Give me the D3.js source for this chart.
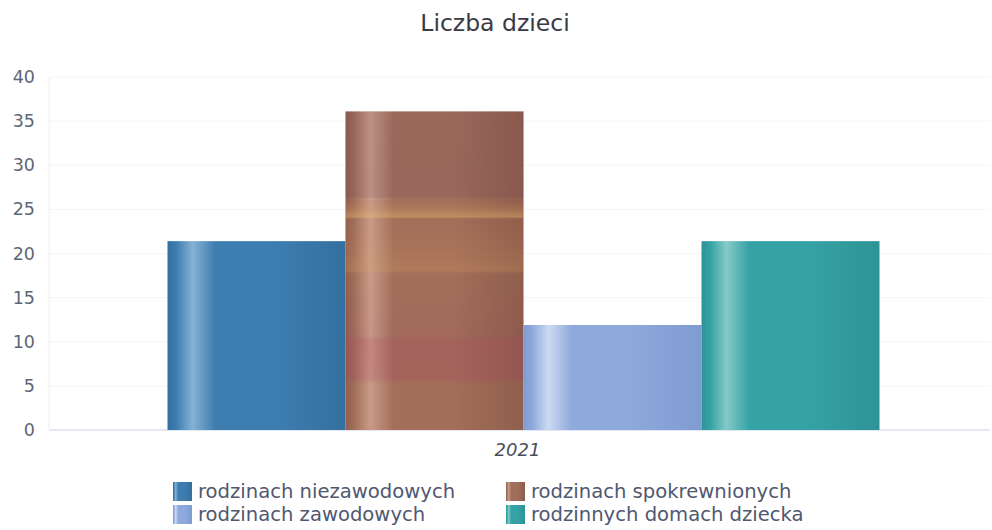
<!DOCTYPE html>
<html>
<head>
<meta charset="utf-8">
<script src="https://cdn.jsdelivr.net/npm/d3@7"></script>
<style>
body { margin: 0; background: #fff; }
svg text { font-family: "DejaVu Sans", Verdana, sans-serif; }
</style>
</head>
<body>
<script>
// data
var categories = ["2021"];
var seriesNames = ["rodzinach niezawodowych", "rodzinach spokrewnionych", "rodzinach zawodowych", "rodzinnych domach dziecka"];
var seriesValues = [21.4, 36.1, 11.9, 21.4];
var yTicks = [0, 5, 10, 15, 20, 25, 30, 35, 40];

var colors = ["#3d7db0", "#a06e5a", "#8ea9dc", "#35a2a5"];
var lights = ["#86b2d4", "#c99e8c", "#cddbf2", "#84cac8"];
var darks  = ["#34709f", "#8c5c4c", "#7f9bd0", "#2d9396"];

var W = 992, H = 530;
var margin = {top: 77, right: 2, bottom: 100, left: 49};

var svg = d3.select("body").append("svg")
	.attr("width", W)
	.attr("height", H);

var defs = svg.append("defs");
colors.forEach(function (c, i) {
	var g = defs.append("linearGradient")
		.attr("id", "grad" + i)
		.attr("x1", "0%").attr("x2", "100%")
		.attr("y1", "0%").attr("y2", "0%");
	g.append("stop").attr("offset", "0%").attr("stop-color", darks[i]);
	g.append("stop").attr("offset", "5%").attr("stop-color", c);
	g.append("stop").attr("offset", "14%").attr("stop-color", lights[i]);
	g.append("stop").attr("offset", "27%").attr("stop-color", c);
	g.append("stop").attr("offset", "60%").attr("stop-color", c);
	g.append("stop").attr("offset", "100%").attr("stop-color", darks[i]);
});

// scan-ish bands on the brown bar
var bands = defs.append("linearGradient")
	.attr("id", "bands")
	.attr("x1", "0%").attr("x2", "0%")
	.attr("y1", "0%").attr("y2", "100%");
[
	[0, "#7a4a60", 0.15], [0.27, "#7a4a60", 0.18], [0.272, "#fff2c0", 0.0],
	[0.28, "#c07850", 0.1], [0.33, "#f0c070", 0.4], [0.34, "#c07850", 0.08],
	[0.5, "#e0a060", 0.25], [0.51, "#c07850", 0.08],
	[0.7, "#b04060", 0.08], [0.72, "#b04060", 0.25], [0.84, "#b04060", 0.22],
	[0.86, "#c07850", 0.08], [1, "#c07850", 0.08]
].forEach(function (s) {
	bands.append("stop").attr("offset", s[0]).attr("stop-color", s[1]).attr("stop-opacity", s[2]);
});

var x = d3.scaleBand()
	.domain(categories)
	.range([margin.left, W - margin.right])
	.paddingInner(0)
	.paddingOuter(0.125);

var y = d3.scaleLinear()
	.domain([0, 40])
	.range([H - margin.bottom, margin.top]);

// title
svg.append("text")
	.attr("x", W / 2 - 1)
	.attr("y", 31)
	.attr("text-anchor", "middle")
	.attr("font-size", 23.5)
	.attr("fill", "#3a3a44")
	.text("Liczba dzieci");

// grid
svg.append("g")
	.selectAll("line")
	.data(yTicks)
	.enter().append("line")
	.attr("x1", margin.left)
	.attr("x2", W - margin.right)
	.attr("y1", function (d) { return y(d); })
	.attr("y2", function (d) { return y(d); })
	.attr("stroke", function (d) { return d === 0 ? "#c9d3e3" : "#f4f5f8"; })
	.attr("stroke-width", 1);

svg.append("line")
	.attr("x1", margin.left).attr("x2", margin.left)
	.attr("y1", y(40)).attr("y2", y(0))
	.attr("stroke", "#eef0f4");

// y axis
var yAxis = svg.append("g")
	.attr("transform", "translate(" + (margin.left - 14) + ",0)")
	.call(d3.axisLeft(y).tickValues(yTicks).tickSize(0).tickPadding(0));
yAxis.select(".domain").remove();
yAxis.selectAll("text")
	.attr("font-size", 17.5)
	.attr("fill", "#5e6676")
	.attr("font-family", "DejaVu Sans, sans-serif");

// bars
var barW = 178;
var groupW = barW * seriesNames.length;
var bars = svg.append("g");
categories.forEach(function (cat) {
	var cx = x(cat) + x.bandwidth() / 2 + 4;
	var sx = d3.scaleBand().domain(seriesNames).range([cx - groupW / 2, cx + groupW / 2]);
	bars.selectAll("rect.s")
		.data(seriesValues)
		.enter().append("rect")
		.attr("x", function (d, i) { return sx(seriesNames[i]); })
		.attr("width", sx.bandwidth())
		.attr("y", function (d) { return y(d); })
		.attr("height", function (d) { return y(0) - y(d); })
		.attr("fill", function (d, i) { return "url(#grad" + i + ")"; });

	// overlay for the brown one
	bars.append("rect")
		.attr("x", sx(seriesNames[1]))
		.attr("width", sx.bandwidth())
		.attr("y", y(seriesValues[1]))
		.attr("height", y(0) - y(seriesValues[1]))
		.attr("fill", "url(#bands)");

	svg.append("text")
		.attr("x", cx - 6)
		.attr("y", y(0) + 26)
		.attr("text-anchor", "middle")
		.attr("font-size", 18)
		.attr("font-style", "italic")
		.attr("fill", "#4a4f5c")
		.text(cat);
});

// legend
var legend = svg.append("g");
var legCols = [173, 506];
var legRows = [491, 514];
seriesNames.forEach(function (name, i) {
	var lx = legCols[i % 2], ly = legRows[Math.floor(i / 2)];
	legend.append("rect")
		.attr("x", lx).attr("y", ly - 9)
		.attr("width", 19).attr("height", 19)
		.attr("fill", "url(#grad" + i + ")");
	legend.append("text")
		.attr("x", lx + 25).attr("y", ly + 7)
		.attr("font-size", 19.6)
		.attr("fill", "#4f5870")
		.text(name);
});
</script>
</body>
</html>
